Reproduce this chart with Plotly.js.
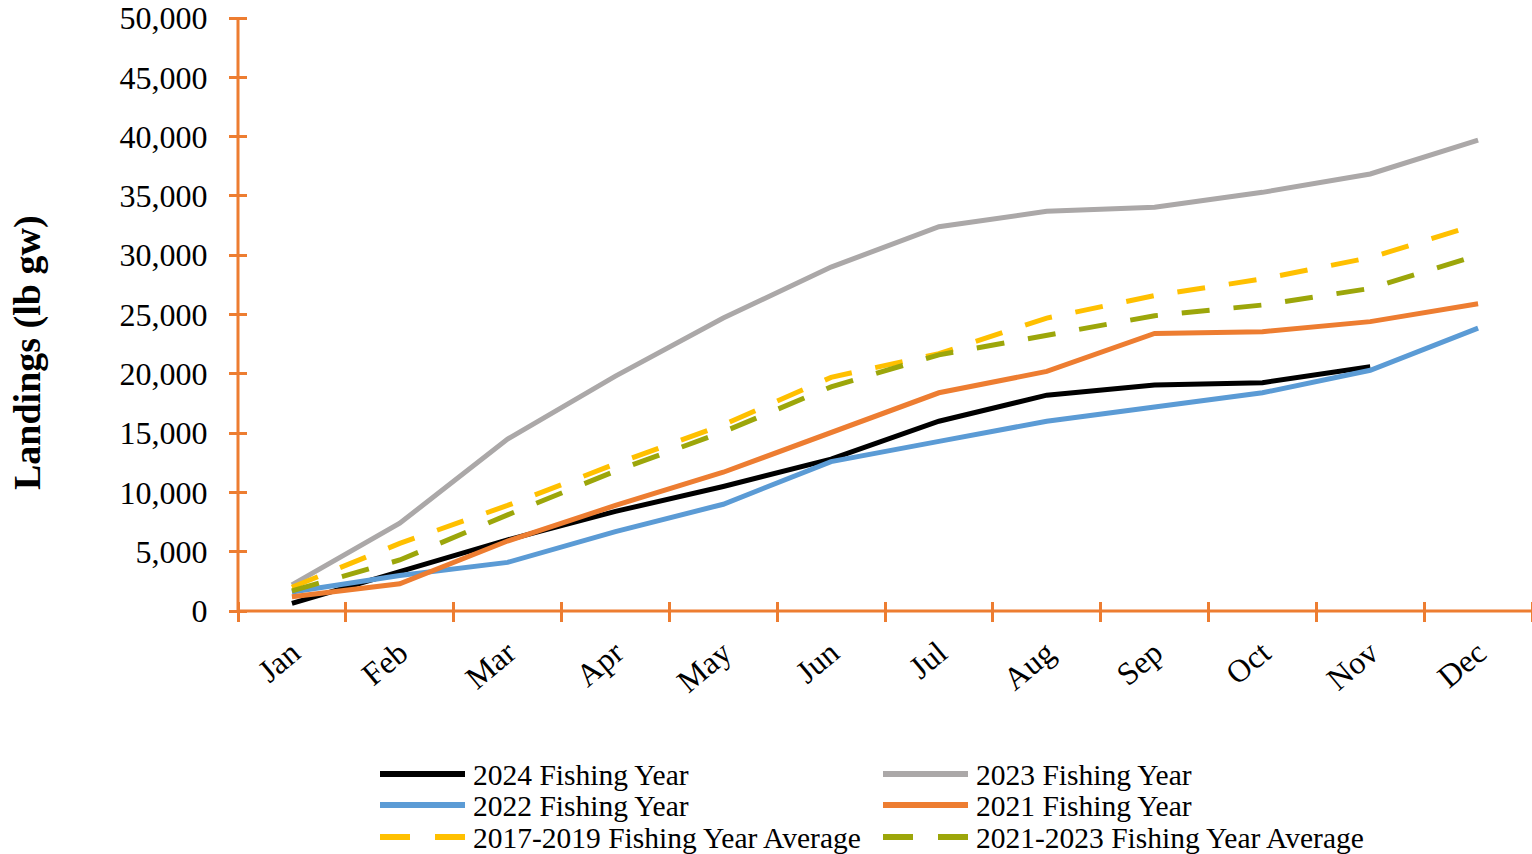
<!DOCTYPE html>
<html>
<head>
<meta charset="utf-8">
<script src="https://cdn.plot.ly/plotly-3.0.1.min.js"></script>
<style>html,body{margin:0;padding:0;background:#fff;}#chart{width:1532px;height:854px;}</style>
</head>
<body>
<div id="chart"></div>
<script>
// ---- data ----
var months = ['Jan','Feb','Mar','Apr','May','Jun','Jul','Aug','Sep','Oct','Nov','Dec'];
var fy2024 = [650, 3300, 6000, 8400, 10500, 12800, 16000, 18200, 19050, 19250, 20600, null];
var fy2023 = [2200, 7400, 14500, 19800, 24700, 29000, 32400, 33700, 34050, 35300, 36850, 39700];
var fy2022 = [1600, 3000, 4100, 6700, 9000, 12600, 14300, 16000, 17200, 18400, 20300, 23850];
var fy2021 = [1200, 2300, 5900, 8900, 11700, 15000, 18400, 20200, 23400, 23550, 24400, 25900];
var avg2017_2019 = [2000, 5700, 8900, 12400, 15700, 19700, 21700, 24700, 26600, 28000, 29800, 32600];
var avg2021_2023 = [1700, 4300, 8100, 11800, 15100, 18900, 21600, 23300, 24900, 25800, 27200, 30000];
var seriesNames = ['2024 Fishing Year','2023 Fishing Year','2022 Fishing Year','2021 Fishing Year',
                   '2017-2019 Fishing Year Average','2021-2023 Fishing Year Average'];
var yTitle = 'Landings (lb gw)';
var yMax = 50000, yStep = 5000;

// ---- styles ----
var seriesValues = [fy2024, fy2023, fy2022, fy2021, avg2017_2019, avg2021_2023];
var styles = [
  {color:'#000000', dash:'solid'},
  {color:'#ABA8A8', dash:'solid'},
  {color:'#5B9BD5', dash:'solid'},
  {color:'#ED7D31', dash:'solid'},
  {color:'#FFC000', dash:'28px,24px'},
  {color:'#9CA60A', dash:'28px,24px'}
];
var axisColor = '#ED7D31';
var fontFam = '"Liberation Serif", "Times New Roman", serif';

var traces = seriesValues.map(function(vals, i){
  return {
    type:'scatter', mode:'lines', x: months, y: vals, name: seriesNames[i],
    line:{color: styles[i].color, width: 5, dash: styles[i].dash},
    connectgaps:false, showlegend:false, hoverinfo:'x+y+name'
  };
});

// ---- geometry ----
var plotL = 238, plotW = 1294, plotB = 611, plotH = 593;
function px2x(p){ return (p - plotL) / plotW; }
function px2y(p){ return (plotB - p) / plotH; }
var halfTickY = 9, halfTickX = 10;

var shapes = [], annotations = [];
// axis lines (the axes themselves are shifted by half a tick so their ticks cross the lines)
shapes.push({type:'line', xref:'paper', yref:'paper', x0:0, x1:1, y0:0, y1:0,
  line:{color:axisColor, width:3}, layer:'above'});
shapes.push({type:'line', xref:'paper', yref:'paper', x0:0, x1:0, y0:0, y1:1,
  line:{color:axisColor, width:3}, layer:'above'});

// ---- manual legend (two columns, three rows) ----
var colSample = [[380, 465], [883, 968]];
var colText = [471, 974];
var rowY = [774, 805, 837];
seriesNames.forEach(function(nm, i){
  var c = i % 2, r = Math.floor(i / 2);
  shapes.push({type:'line', xref:'paper', yref:'paper',
    x0: px2x(colSample[c][0]), x1: px2x(colSample[c][1]), y0: px2y(rowY[r]), y1: px2y(rowY[r]),
    line:{color: styles[i].color, width: 6, dash: styles[i].dash === 'solid' ? 'solid' : '30px,25px'}});
  annotations.push({xref:'paper', yref:'paper', x: px2x(colText[c]), y: px2y(rowY[r] + 1),
    xanchor:'left', yanchor:'middle', showarrow:false, text: nm,
    font:{family: fontFam, size: 29.5, color:'#000'}});
});
annotations.push({xref:'paper', yref:'paper', x: px2x(27), y: px2y(352), xanchor:'center', yanchor:'middle',
  textangle:-90, showarrow:false, text:'<b>' + yTitle + '</b>', font:{family: fontFam, size: 38, color:'#000'}});

var layout = {
  width:1532, height:854,
  margin:{l:plotL, r:0, t:18, b:243, pad:0},
  paper_bgcolor:'#fff', plot_bgcolor:'#fff',
  showlegend:false,
  font:{family: fontFam, color:'#000'},
  xaxis:{type:'category', categoryorder:'array', categoryarray: months, range:[-0.5, 11.5],
    anchor:'free', position: halfTickX / plotH,
    tickson:'boundaries', ticks:'outside', ticklen: 2 * halfTickX, tickwidth:3, tickcolor: axisColor,
    showline:false, showgrid:false, zeroline:false,
    tickangle:-40, tickfont:{family: fontFam, size:32, color:'#000'}, ticklabelstandoff: 26},
  yaxis:{range:[0, yMax], tickmode:'linear', tick0:0, dtick:yStep, tickformat:',d',
    anchor:'free', position: halfTickY / plotW,
    ticks:'outside', ticklen: 2 * halfTickY, tickwidth:3, tickcolor: axisColor,
    showline:false, showgrid:false, zeroline:false,
    tickfont:{family: fontFam, size:32, color:'#000'}, ticklabelstandoff: 15},
  shapes: shapes,
  annotations: annotations
};
Plotly.newPlot('chart', traces, layout, {staticPlot:true, displayModeBar:false});
</script>
</body>
</html>
